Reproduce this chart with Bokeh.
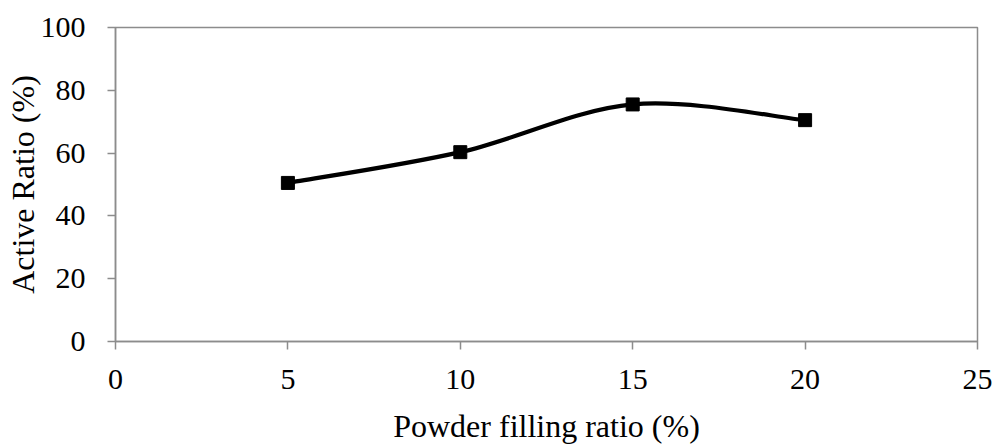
from bokeh.plotting import figure
from bokeh.models import Range1d, FixedTicker
from bokeh.embed import file_html
from bokeh.resources import INLINE

# data
filling_ratio = [5, 10, 15, 20]
active_ratio = [50.5, 60.3, 75.5, 70.5]
x_ticks = [0, 5, 10, 15, 20, 25]
y_ticks = [0, 20, 40, 60, 80, 100]

FONT = "Liberation Serif"
GRAY = "#8c8c8c"

p = figure(width=995, height=446, output_backend="svg", toolbar_location=None,
           x_range=Range1d(0, 25), y_range=Range1d(0, 100),
           min_border_left=115, min_border_right=18, min_border_top=27, min_border_bottom=104)
p.outline_line_color = GRAY
p.outline_line_width = 1.5
p.grid.visible = False

# smoothed line (Excel-like Catmull-Rom bezier segments)
n = len(filling_ratio)
x0s, y0s, x1s, y1s, cx0, cy0, cx1, cy1 = [], [], [], [], [], [], [], []
for i in range(n - 1):
    pa = (filling_ratio[max(i - 1, 0)], active_ratio[max(i - 1, 0)])
    pb = (filling_ratio[i], active_ratio[i])
    pc = (filling_ratio[i + 1], active_ratio[i + 1])
    pd = (filling_ratio[min(i + 2, n - 1)], active_ratio[min(i + 2, n - 1)])
    x0s.append(pb[0]); y0s.append(pb[1]); x1s.append(pc[0]); y1s.append(pc[1])
    cx0.append(pb[0] + (pc[0] - pa[0]) / 6); cy0.append(pb[1] + (pc[1] - pa[1]) / 6)
    cx1.append(pc[0] - (pd[0] - pb[0]) / 6); cy1.append(pc[1] - (pd[1] - pb[1]) / 6)
p.bezier(x0=x0s, y0=y0s, x1=x1s, y1=y1s, cx0=cx0, cy0=cy0, cx1=cx1, cy1=cy1,
         line_color="black", line_width=4.2)
p.scatter(filling_ratio, active_ratio, marker="square", size=13, fill_color="black", line_color="black")

for ax in (p.xaxis[0], p.yaxis[0]):
    ax.axis_line_color = GRAY
    ax.axis_line_width = 1.5
    ax.major_tick_line_color = GRAY
    ax.major_tick_line_width = 1.5
    ax.major_tick_out = 8
    ax.major_tick_in = 0
    ax.minor_tick_line_color = None
    ax.major_label_text_font = FONT
    ax.major_label_text_font_size = "30px"
    ax.major_label_text_color = "black"
    ax.axis_label_text_font = FONT
    ax.axis_label_text_font_size = "32px"
    ax.axis_label_text_font_style = "normal"
    ax.axis_label_text_color = "black"

p.xaxis.ticker = FixedTicker(ticks=x_ticks)
p.yaxis.ticker = FixedTicker(ticks=y_ticks)
p.xaxis.axis_label = "Powder filling ratio (%)"
p.yaxis.axis_label = "Active Ratio (%)"
p.yaxis.major_label_standoff = 22
p.xaxis.major_label_standoff = 20
p.xaxis.axis_label_standoff = 16
p.yaxis.axis_label_standoff = -3

open("out.html", "w").write(file_html(p, INLINE))
